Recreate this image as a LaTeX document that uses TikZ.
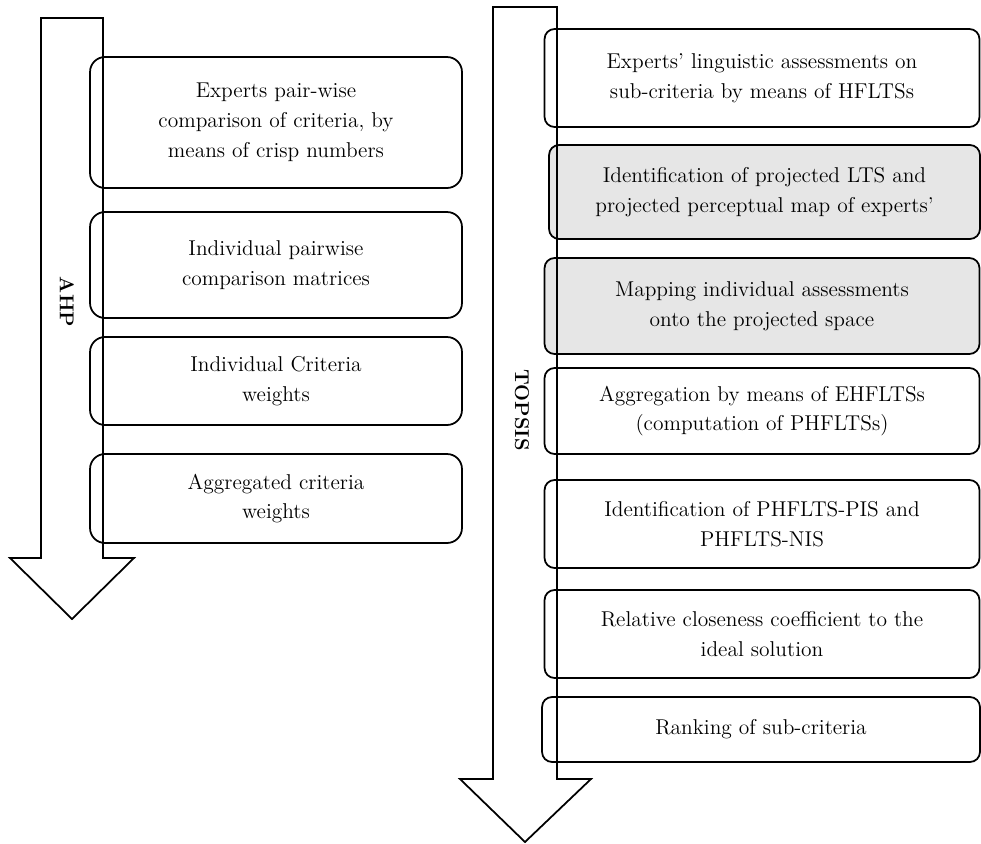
\documentclass[tikz,border=0pt]{standalone}
\usepackage{tikz}
\usetikzlibrary{positioning}
\definecolor{stagegrey}{HTML}{E6E6E6}
\tikzset{
  ahpbox/.style={draw, line width=1pt, rounded corners=8.5pt, align=center,
    font=\fontsize{12.2}{17}\selectfont, minimum width=7.44cm},
  topsisbox/.style={draw, line width=1pt, rounded corners=5.7pt, align=center,
    font=\fontsize{12.2}{17}\selectfont, minimum width=8.7cm},
  flowarrow/.style={draw, line width=1pt, line join=miter},
  phaselabel/.style={font=\fontsize{11.4}{14}\selectfont\bfseries, rotate=-90}
}
\begin{document}
\begin{tikzpicture}[x=0.02cm,y=-0.02cm]
\useasboundingbox (0,0) rectangle (981,843);
%AHP steps
\node[ahpbox, minimum height=2.62cm] (ahp1) at (276,122.5) {Experts pair-wise\\comparison of criteria, by\\means of crisp numbers};
\node[ahpbox, minimum height=2.12cm] (ahp2) at (276,265) {Individual pairwise\\comparison matrices};
\node[ahpbox, minimum height=1.76cm] (ahp3) at (276,381) {Individual Criteria\\weights};
\node[ahpbox, minimum height=1.78cm] (ahp4) at (276,498.5) {Aggregated criteria\\weights};
%TOPSIS steps
\node[topsisbox, minimum height=1.96cm] (tps1) at (762,78) {Experts’ linguistic assessments on\\sub-criteria by means of HFLTSs};
\node[topsisbox, fill=stagegrey, minimum width=8.62cm, minimum height=1.88cm] (tps2) at (764.5,192) {Identification of projected LTS and\\projected perceptual map of experts’};
\node[topsisbox, fill=stagegrey, minimum height=1.92cm] (tps3) at (762,306) {Mapping individual assessments\\onto the projected space};
\node[topsisbox, minimum height=1.72cm] (tps4) at (762,411) {Aggregation by means of EHFLTSs\\(computation of PHFLTSs)};
\node[topsisbox, minimum height=1.76cm] (tps5) at (762,524) {Identification of PHFLTS-PIS and\\PHFLTS-NIS};
\node[topsisbox, minimum height=1.76cm] (tps6) at (762,634) {Relative closeness coefficient to the\\ideal solution};
\node[topsisbox, minimum width=8.76cm, minimum height=1.3cm] (tps7) at (761,729.5) {Ranking of sub-criteria};
%block arrows
\draw[flowarrow] (41,18)--(103,18)--(103,558)--(134,558)--(72,619)--(10,558)--(41,558)--cycle;
\draw[flowarrow] (493,7)--(557,7)--(557,779)--(591,779)--(525,842)--(460,779)--(493,779)--cycle;
%labels
\node[phaselabel] (ahp) at (67,302) {AHP};
\node[phaselabel] (topsis) at (522,410) {TOPSIS};
\end{tikzpicture}
\end{document}
